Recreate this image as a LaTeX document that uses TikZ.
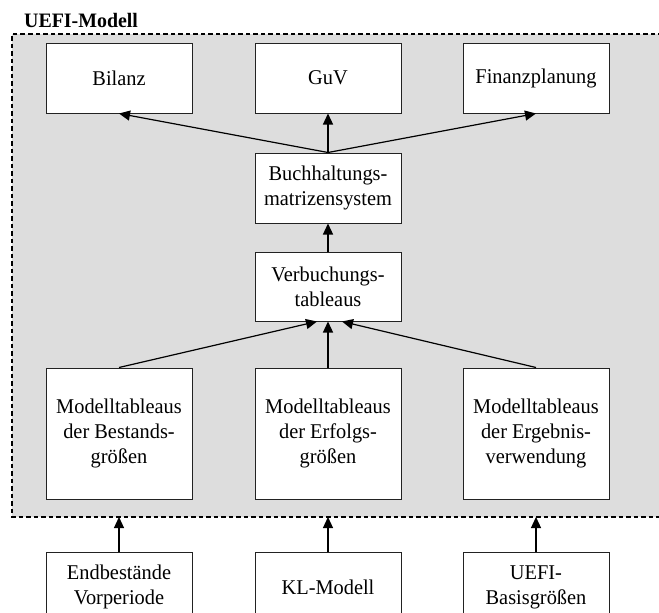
\documentclass[tikz,border=0pt]{standalone}
\usepackage{fontspec}
\setmainfont{Liberation Serif}[FakeStretch=0.97]
\usepackage{tikz}
\usetikzlibrary{arrows.meta,positioning}
\definecolor{framegray}{RGB}{221,221,221}
\definecolor{boxline}{RGB}{34,34,34}

\tikzset{
    modbox/.style={draw=boxline, line width=1pt, fill=white, align=center,
        minimum width=146pt, minimum height=70pt, inner sep=2pt,
        font=\fontsize{21}{25}\selectfont},
    tallbox/.style={modbox, minimum height=131pt},
    flow/.style={line width=1.2pt, -{Triangle[length=11pt,width=10pt]}}
}

\begin{document}
\begin{tikzpicture}[x=1pt, y=-1pt]
    \useasboundingbox (0,0) rectangle (659,613);
    \clip (0,0) rectangle (659,613);

    % --- model frame ---
    \fill[framegray] (12,34) rectangle (670,517);
    \draw[line width=1.5pt, dash pattern=on 4.5pt off 3pt] (670,34) -- (12,34) -- (12,517) -- (670,517);
    \node[anchor=west, font=\fontsize{20.5}{24}\selectfont\bfseries, inner sep=0pt] (title) at (24,20) {UEFI-Modell};
    \coordinate (fb) at (0,517);

    % Output statements
    \node[modbox] (bilanz) at (119,78) {Bilanz};
    \node[modbox] (guv) at (328,78) {GuV};
    \node[modbox] (finanz) at (536,78) {Finanzplanung};

    % Matrix system and booking tables
    \node[modbox] (buch) at (328,188) {Buchhaltungs-\\matrizensystem};
    \node[modbox, minimum height=69pt] (verb) at (328,286.5) {Verbuchungs-\\tableaus};

    % Model tables
    \node[tallbox] (mbest) at (119,433.5) {Modelltableaus\\der Bestands-\\größen};
    \node[tallbox] (merf) at (328,433.5) {Modelltableaus\\der Erfolgs-\\größen};
    \node[tallbox] (merg) at (536,433.5) {Modelltableaus\\der Ergebnis-\\verwendung};

    % Inputs below the frame
    \node[modbox] (endb) at (119,587) {Endbestände\\Vorperiode};
    \node[modbox] (klm) at (328,587) {KL-Modell};
    \node[modbox] (basis) at (536,587) {UEFI-\\Basisgrößen};

    % Arrows
    \draw[flow] (buch.north) -- (bilanz.south);
    \draw[flow] (buch.north) -- (guv.south);
    \draw[flow] (buch.north) -- (finanz.south);
    \draw[flow] (verb.north) -- (buch.south);
    \draw[flow] (mbest.north) -- ([xshift=-11pt]verb.south);
    \draw[flow] (merf.north) -- (verb.south);
    \draw[flow] (merg.north) -- ([xshift=14pt]verb.south);
    \foreach \src in {endb,klm,basis}{
        \draw[flow] (\src.north) -- (\src.north |- fb);
    }
\end{tikzpicture}
\end{document}
